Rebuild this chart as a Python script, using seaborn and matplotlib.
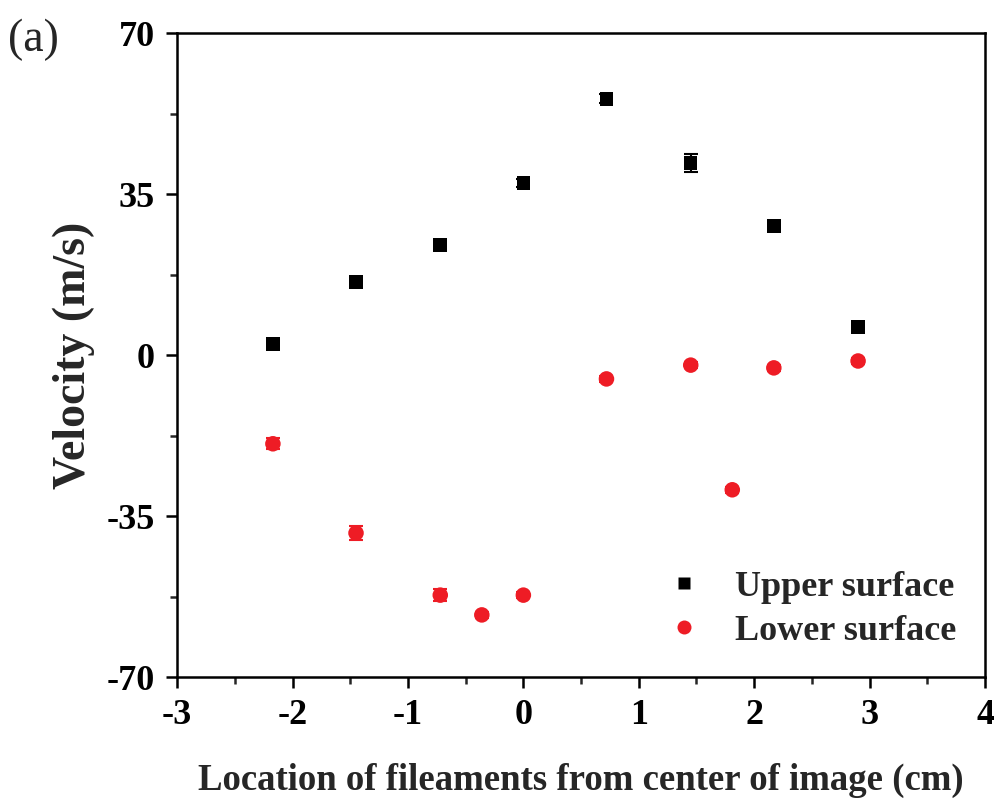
import matplotlib
matplotlib.use("Agg")
import matplotlib.pyplot as plt
import seaborn as sns
import pandas as pd
from matplotlib.ticker import MultipleLocator

upper_x = [-2.17, -1.45, -0.72, 0.0, 0.72, 1.45, 2.17, 2.90]
upper_y = [2.4, 15.9, 23.9, 37.4, 55.7, 41.7, 28.0, 6.1]
upper_err = [0.8, 0.6, 0.9, 0.9, 1.0, 2.0, 1.1, 0.9]

lower_x = [-2.17, -1.45, -0.72, -0.36, 0.0, 0.72, 1.45, 1.81, 2.17, 2.90]
lower_y = [-19.3, -38.7, -52.2, -56.5, -52.2, -5.2, -2.2, -29.3, -2.8, -1.3]
lower_err = [1.2, 1.6, 1.3, 0.6, 0.6, 0.6, 0.6, 0.6, 0.6, 0.6]

series_names = ["Upper surface", "Lower surface"]
colors = {"Upper surface": "#000000", "Lower surface": "#ee1c25"}

df = pd.DataFrame({
    "x": upper_x + lower_x,
    "y": upper_y + lower_y,
    "err": upper_err + lower_err,
    "series": [series_names[0]] * len(upper_x) + [series_names[1]] * len(lower_x),
})

sns.set_theme(style="ticks")
plt.rcParams["font.family"] = ["Liberation Serif", "DejaVu Serif"]
plt.rcParams["font.weight"] = "bold"
plt.rcParams["axes.unicode_minus"] = False

fig = plt.figure(figsize=(9.95, 8.05), dpi=100)
ax = fig.add_axes([0.178, 0.159, 0.812, 0.800])

for name in series_names:
    sub = df[df["series"] == name]
    ax.errorbar(sub["x"], sub["y"], yerr=sub["err"], fmt="none",
                ecolor=colors[name], elinewidth=1.5, capsize=5, capthick=1.5, zorder=2)

sns.scatterplot(data=df, x="x", y="y", hue="series", style="series", size="series",
                markers={"Upper surface": "s", "Lower surface": "o"},
                sizes={"Upper surface": 95, "Lower surface": 125},
                palette=colors, edgecolor="none", ax=ax, zorder=3)

ax.set_xlim(-3, 4)
ax.set_ylim(-70, 70)
ax.xaxis.set_major_locator(MultipleLocator(1))
ax.xaxis.set_minor_locator(MultipleLocator(0.5))
ax.yaxis.set_major_locator(MultipleLocator(35))
ax.yaxis.set_minor_locator(MultipleLocator(17.5))
for s in ax.spines.values():
    s.set_visible(True)
    s.set_linewidth(1.8)
    s.set_color("black")
ax.tick_params(which="major", direction="out", length=8, width=1.8, labelsize=26, pad=8, colors="black")
ax.tick_params(which="minor", direction="out", length=5, width=1.8)
for lab in ax.get_xticklabels() + ax.get_yticklabels():
    lab.set_fontweight("bold")

ax.set_xlabel("Location of fileaments from center of image (cm)", fontsize=26.5, fontweight="bold", labelpad=22)
ax.set_ylabel("Velocity (m/s)", fontsize=33, fontweight="bold", labelpad=8)

leg = ax.legend(loc="lower right", frameon=False, fontsize=26, handletextpad=0.4,
                borderaxespad=0.4, labelspacing=0.3, markerscale=0.9)
for t in leg.get_texts():
    t.set_fontweight("bold")

fig.text(0.008, 0.951, "(a)", fontsize=33, fontweight="normal", va="center", ha="left")

fig.savefig("out.png", dpi=100)
